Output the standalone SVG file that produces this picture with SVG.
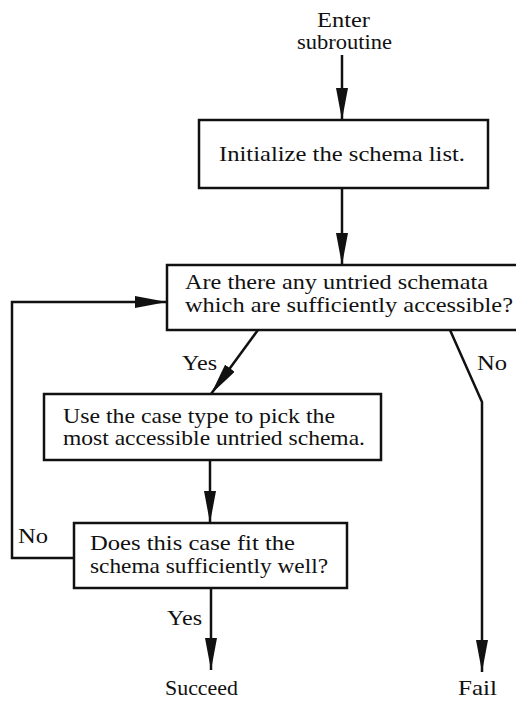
<svg xmlns="http://www.w3.org/2000/svg" width="516" height="701" viewBox="0 0 516 701">
  <style>
    .box { fill: #fff; stroke: #111; stroke-width: 2.5; }
    .edge { fill: none; stroke: #111; stroke-width: 2.5; }
    text { font-family: "Liberation Serif", "Times New Roman", serif; font-size: 21px; fill: #111; }
  </style>
  <defs>
    <marker id="arrow" markerUnits="userSpaceOnUse" viewBox="0 0 32 12" refX="32" refY="6" markerWidth="32" markerHeight="12" orient="auto">
      <path d="M0,0 L32,6 L0,12 Z" fill="#111"/>
    </marker>
  </defs>
  <rect width="516" height="701" fill="#fff"/>

  <g id="connectors">
    <path class="edge" d="M342,55 L342,120" marker-end="url(#arrow)"/>
    <path class="edge" d="M342,188 L342,265" marker-end="url(#arrow)"/>
    <path class="edge" d="M258,330 L211,394" marker-end="url(#arrow)"/>
    <path class="edge" d="M450,330 L482,402 L482,672" marker-end="url(#arrow)"/>
    <path class="edge" d="M210,460 L210,523" marker-end="url(#arrow)"/>
    <path class="edge" d="M74,558 L12,558 L12,302 L167,302" marker-end="url(#arrow)"/>
    <path class="edge" d="M211,588 L211,670" marker-end="url(#arrow)"/>
    <text x="182" y="370" textLength="35" lengthAdjust="spacingAndGlyphs">Yes</text>
    <text x="477" y="370" textLength="30" lengthAdjust="spacingAndGlyphs">No</text>
    <text x="18" y="543" textLength="30" lengthAdjust="spacingAndGlyphs">No</text>
    <text x="167" y="625" textLength="35" lengthAdjust="spacingAndGlyphs">Yes</text>
  </g>

  <g id="enter">
    <text x="317" y="27" textLength="53" lengthAdjust="spacingAndGlyphs">Enter</text>
    <text x="297" y="49" textLength="95" lengthAdjust="spacingAndGlyphs">subroutine</text>
  </g>

  <g id="init">
    <rect class="box" x="199" y="120" width="289" height="68"/>
    <text x="219" y="161" textLength="246" lengthAdjust="spacingAndGlyphs">Initialize the schema list.</text>
  </g>

  <g id="untried">
    <rect class="box" x="167" y="265" width="360" height="65"/>
    <text x="185" y="289" textLength="303" lengthAdjust="spacingAndGlyphs">Are there any untried schemata</text>
    <text x="185" y="312" textLength="328" lengthAdjust="spacingAndGlyphs">which are sufficiently accessible?</text>
  </g>

  <g id="pick">
    <rect class="box" x="44" y="394" width="337" height="66"/>
    <text x="63" y="423" textLength="272" lengthAdjust="spacingAndGlyphs">Use the case type to pick the</text>
    <text x="63" y="445" textLength="302" lengthAdjust="spacingAndGlyphs">most accessible untried schema.</text>
  </g>

  <g id="fit">
    <rect class="box" x="74" y="523" width="273" height="65"/>
    <text x="90" y="550" textLength="205" lengthAdjust="spacingAndGlyphs">Does this case fit the</text>
    <text x="90" y="573" textLength="238" lengthAdjust="spacingAndGlyphs">schema sufficiently well?</text>
  </g>

  <g id="succeed">
    <text x="165" y="695" textLength="73" lengthAdjust="spacingAndGlyphs">Succeed</text>
  </g>

  <g id="fail">
    <text x="458" y="695" textLength="39" lengthAdjust="spacingAndGlyphs">Fail</text>
  </g>
</svg>
